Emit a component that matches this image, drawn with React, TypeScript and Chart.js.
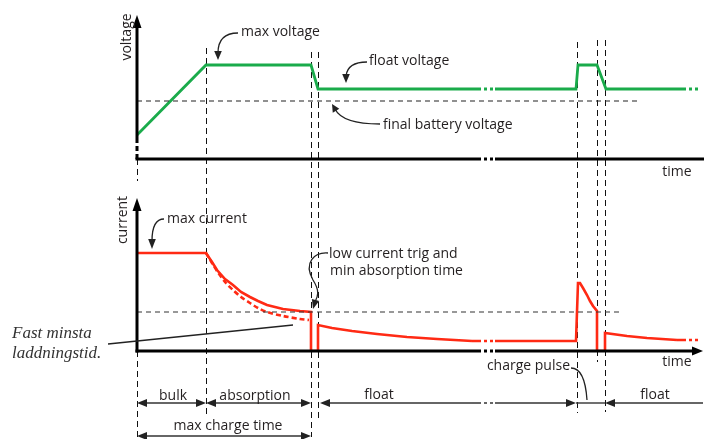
import React, { useEffect, useRef } from "react";
import { Chart, registerables } from "chart.js";

Chart.register(...registerables);

// ---------------- data (schematic units) ----------------
// time axis: 0 = start of charge
const voltageTime = [0, 69, 174, 181, 335, 358, 439, 441, 460, 469, 540, 563];
const voltageLevel = [24, 94, 94, 70, 70, 70, 70, 94, 94, 70, 70, 70];

const currentTime = [0, 69, 75, 80, 88, 96, 104, 113, 121, 130, 146, 163, 174, 174, 181, 181, 195, 215, 240, 270, 300, 335, 358, 439, 441, 443, 446, 450, 453, 456, 460, 460, 468, 468, 490, 510, 540, 563];
const currentLevel = [98, 98, 89, 81, 72, 66, 59, 54, 50, 46, 42, 40, 39, 0, 0, 26, 23, 20, 17, 14, 12, 10, 10, 10, 68, 68, 63, 56, 50, 45, 40, 0, 0, 18, 15, 13, 11, 11];

// alternative (fixed minimum charge time) absorption curve, dashed
const altAbsorptionTime = [69, 75, 80, 88, 96, 104, 113, 121, 130, 146, 163, 172];
const altAbsorptionLevel = [98, 88, 80, 69, 61, 54, 48, 43, 39, 35, 32, 31];

const finalBatteryVoltage = 58;
const finalBatteryLineEnd = 503;
const lowCurrentTrig = 39;
const lowCurrentLineEnd = 485;

// broken ("...") stretches of the time axis: [start, end]
const timeBreaks = [[335, 358], [540, 563]];
const breakStarts = timeBreaks.map((b) => b[0]);

// phase boundaries: start, end bulk, end absorption (max charge time), start float, pulse start, pulse end, float again
const phaseTimes = [0, 69, 174, 181, 440, 460, 468];

const T_MAX = 563;
const V_MAX = 144;
const I_MAX = 192;
const A_MAX = 88;

const pts = (xs: number[], ys: number[]) => xs.map((x, i) => ({ x, y: ys[i] }));

// ---------------- styling / annotation layout ----------------
const DASH_BREAK = [9, 3, 3, 3, 3, 2];
const TEXT_COLOR = "#231f20";
const FONT = '14px "Open Sans", sans-serif';
const FONT_IT = 'italic 17px "Liberation Serif", serif';

type Ax = "yV" | "yI" | "yA";

const vLines: { t: number; from: [Ax, number]; to: [Ax, number] }[] = [
  { t: phaseTimes[0], from: ["yV", 0], to: ["yV", -22] },
  { t: phaseTimes[0], from: ["yI", 0], to: ["yA", 2] },
  { t: phaseTimes[1], from: ["yV", 111], to: ["yA", 21] },
  { t: phaseTimes[2], from: ["yV", 107], to: ["yA", 2] },
  { t: phaseTimes[3], from: ["yV", 107], to: ["yA", 19] },
  { t: phaseTimes[4], from: ["yV", 117], to: ["yA", 26] },
  { t: phaseTimes[5], from: ["yV", 119], to: ["yA", 77] },
  { t: phaseTimes[6], from: ["yV", 119], to: ["yA", 27] },
];

const callouts: { axis: Ax; path: number[][]; tip?: number[] }[] = [
  { axis: "yV", path: [[101, 126], [89, 126], [81, 120], [81, 106]], tip: [81, 99] },
  { axis: "yV", path: [[230, 97], [217, 97], [210, 92], [209, 83]], tip: [209, 76] },
  { axis: "yV", path: [[243, 35], [218, 35], [203, 40], [198, 50]], tip: [195, 55] },
  { axis: "yI", path: [[27, 132], [20, 132], [15, 127], [15, 110]], tip: [15, 102] },
  { axis: "yI", path: [[191, 98], [178, 99], [166, 89], [176, 71], [183, 60], [181, 55], [178, 49]], tip: [176, 42] },
  { axis: "yA", path: [[434, 71], [446, 71], [449, 54], [450, 39]] },
];

const texts: { s: string; axis: Ax; t: number; v: number; align: CanvasTextAlign; rot?: boolean; it?: boolean }[] = [
  { s: "voltage", axis: "yV", t: -10, v: 122, align: "center", rot: true },
  { s: "current", axis: "yI", t: -14, v: 131, align: "center", rot: true },
  { s: "time", axis: "yV", t: 540, v: -13, align: "center" },
  { s: "time", axis: "yI", t: 540, v: -11, align: "center" },
  { s: "max voltage", axis: "yV", t: 104, v: 127, align: "left" },
  { s: "float voltage", axis: "yV", t: 232, v: 98, align: "left" },
  { s: "final battery voltage", axis: "yV", t: 246, v: 34, align: "left" },
  { s: "max current", axis: "yI", t: 30, v: 132, align: "left" },
  { s: "low current trig and", axis: "yI", t: 192, v: 97, align: "left" },
  { s: "min absorption time", axis: "yI", t: 193, v: 80, align: "left" },
  { s: "charge pulse", axis: "yA", t: 433, v: 73, align: "right" },
  { s: "bulk", axis: "yA", t: 36, v: 43, align: "center" },
  { s: "absorption", axis: "yA", t: 118, v: 43, align: "center" },
  { s: "float", axis: "yA", t: 242, v: 44, align: "center" },
  { s: "float", axis: "yA", t: 518, v: 44, align: "center" },
  { s: "max charge time", axis: "yA", t: 91, v: 13, align: "center" },
  { s: "Fast minsta", axis: "yI", t: -125, v: 17, align: "left", it: true },
  { s: "laddningstid.", axis: "yI", t: -125, v: -3, align: "left", it: true },
];

function head(ctx: CanvasRenderingContext2D, tx: number, ty: number, ang: number, len: number, half: number) {
  const c = Math.cos(ang), s = Math.sin(ang);
  ctx.beginPath();
  ctx.moveTo(tx, ty);
  ctx.lineTo(tx - len * c + half * s, ty - len * s - half * c);
  ctx.lineTo(tx - len * c - half * s, ty - len * s + half * c);
  ctx.closePath();
  ctx.fill();
}

function seg(ctx: CanvasRenderingContext2D, x1: number, y1: number, x2: number, y2: number, dash: number[] = []) {
  ctx.setLineDash(dash);
  ctx.beginPath();
  ctx.moveTo(x1, y1);
  ctx.lineTo(x2, y2);
  ctx.stroke();
  ctx.setLineDash([]);
}

const diagramPlugin = {
  id: "diagram",
  beforeDatasetsDraw(chart: any) {
    const ctx: CanvasRenderingContext2D = chart.ctx;
    const sx = chart.scales.x;
    ctx.save();
    ctx.strokeStyle = "#111";
    ctx.lineWidth = 1;
    for (const l of vLines) {
      const X = Math.round(sx.getPixelForValue(l.t)) + 0.5;
      seg(ctx, X, chart.scales[l.from[0]].getPixelForValue(l.from[1]), X, chart.scales[l.to[0]].getPixelForValue(l.to[1]), [6, 4]);
    }
    ctx.restore();
  },
  afterDatasetsDraw(chart: any) {
    const ctx: CanvasRenderingContext2D = chart.ctx;
    const { x: sx, yV, yI, yA } = chart.scales;
    const X = (t: number) => sx.getPixelForValue(t);
    const S: any = { yV, yI, yA };
    ctx.save();

    // ---- axes ----
    ctx.strokeStyle = "#000";
    ctx.fillStyle = "#000";
    ctx.lineWidth = 3;
    const x0 = X(0);
    // voltage axis
    seg(ctx, x0, yV.getPixelForValue(21), x0, yV.getPixelForValue(V_MAX) + 8);
    seg(ctx, x0, yV.getPixelForValue(21), x0, yV.getPixelForValue(0), [5, 3]);
    head(ctx, x0, yV.getPixelForValue(V_MAX), -Math.PI / 2, 13, 4.5);
    // current axis
    seg(ctx, x0, yI.getPixelForValue(0) + 1.5, x0, yI.getPixelForValue(153) + 8);
    head(ctx, x0, yI.getPixelForValue(153), -Math.PI / 2, 13, 4.5);
    // time axes with a break
    const brokenH = (y: number, end: number) => {
      const b0 = X(timeBreaks[0][0]), b1 = X(timeBreaks[0][1]);
      seg(ctx, x0 - 1.5, y, b0, y);
      seg(ctx, b0, y, b1, y, DASH_BREAK);
      seg(ctx, b1, y, end, y);
    };
    brokenH(yV.getPixelForValue(0), X(T_MAX) + 4);
    brokenH(yI.getPixelForValue(0), X(T_MAX) - 5);
    head(ctx, X(T_MAX) + 3, yI.getPixelForValue(0), 0, 11, 4.5);

    // ---- dimension arrows ----
    ctx.strokeStyle = "#333";
    ctx.fillStyle = "#222";
    ctx.lineWidth = 1.4;
    const r1 = yA.getPixelForValue(36);
    const r2 = yA.getPixelForValue(3);
    const dbl = (a: number, b: number, y: number) => {
      seg(ctx, X(a) + 4, y, X(b) - 4, y);
      head(ctx, X(a), y, Math.PI, 10, 4);
      head(ctx, X(b), y, 0, 10, 4);
    };
    dbl(phaseTimes[0], phaseTimes[1], r1);
    dbl(phaseTimes[1], phaseTimes[2], r1);
    dbl(phaseTimes[0], phaseTimes[2], r2);
    // float row
    const fb0 = X(timeBreaks[0][0]), fb1 = X(timeBreaks[0][1]);
    seg(ctx, X(183) + 4, r1, fb0, r1);
    seg(ctx, fb0, r1, fb1, r1, DASH_BREAK);
    seg(ctx, fb1, r1, X(439) - 4, r1);
    head(ctx, X(183), r1, Math.PI, 10, 4);
    head(ctx, X(439), r1, 0, 10, 4);
    seg(ctx, X(439), r1, X(468), r1);
    seg(ctx, X(468) + 4, r1, X(T_MAX) + 3, r1);
    head(ctx, X(468), r1, Math.PI, 10, 4);

    // ---- callouts ----
    ctx.strokeStyle = "#222";
    ctx.fillStyle = "#222";
    ctx.lineWidth = 1.3;
    for (const c of callouts) {
      const sc = S[c.axis];
      const P = c.path.map((p) => [X(p[0]), sc.getPixelForValue(p[1])]);
      ctx.beginPath();
      ctx.moveTo(P[0][0], P[0][1]);
      for (let i = 1; i + 2 < P.length; i += 3) {
        ctx.bezierCurveTo(P[i][0], P[i][1], P[i + 1][0], P[i + 1][1], P[i + 2][0], P[i + 2][1]);
      }
      ctx.stroke();
      if (c.tip) {
        const last = P[P.length - 1];
        const tx = X(c.tip[0]), ty = sc.getPixelForValue(c.tip[1]);
        const ang = Math.atan2(ty - last[1], tx - last[0]);
        const len = Math.hypot(ty - last[1], tx - last[0]) + 2;
        head(ctx, tx, ty, ang, len, 3.8);
      }
    }
    // "Fast minsta laddningstid." pointer
    ctx.lineWidth = 1.4;
    seg(ctx, X(-29), yI.getPixelForValue(7), X(156), yI.getPixelForValue(26));

    // ---- texts ----
    ctx.textBaseline = "middle";
    for (const t of texts) {
      const px = X(t.t), py = S[t.axis].getPixelForValue(t.v);
      ctx.font = t.it ? FONT_IT : FONT;
      ctx.fillStyle = t.it ? "#333" : TEXT_COLOR;
      ctx.textAlign = t.align;
      if (t.rot) {
        ctx.save();
        ctx.translate(px, py);
        ctx.rotate(-Math.PI / 2);
        ctx.fillText(t.s, 0, 0);
        ctx.restore();
      } else {
        ctx.fillText(t.s, px, py);
      }
    }
    ctx.restore();
  },
};

export default function App() {
  const ref = useRef<HTMLCanvasElement>(null);
  useEffect(() => {
    const canvas = ref.current!;
    const breakSegment = {
      borderDash: (c: any) => (breakStarts.includes(c.p0.parsed.x) && c.p1.parsed.x > c.p0.parsed.x ? DASH_BREAK : undefined),
    };
    const chart = new Chart(canvas, {
      type: "line",
      data: {
        datasets: [
          {
            data: [{ x: 0, y: finalBatteryVoltage }, { x: finalBatteryLineEnd, y: finalBatteryVoltage }],
            yAxisID: "yV", borderColor: "#222", borderWidth: 1.2, borderDash: [5, 4], pointRadius: 0,
          },
          {
            data: [{ x: 0, y: lowCurrentTrig }, { x: lowCurrentLineEnd, y: lowCurrentTrig }],
            yAxisID: "yI", borderColor: "#333", borderWidth: 1.2, borderDash: [5, 4], pointRadius: 0,
          },
          {
            data: pts(voltageTime, voltageLevel),
            yAxisID: "yV", borderColor: "#1aab4b", borderWidth: 2.8, pointRadius: 0, tension: 0,
            segment: breakSegment,
          },
          {
            data: pts(altAbsorptionTime, altAbsorptionLevel),
            yAxisID: "yI", borderColor: "#ff2a14", borderWidth: 2.6, borderDash: [5, 3], pointRadius: 0, tension: 0.3,
          },
          {
            data: pts(currentTime, currentLevel),
            yAxisID: "yI", borderColor: "#ff2a14", borderWidth: 2.6, pointRadius: 0, tension: 0,
            segment: breakSegment,
          },
        ],
      },
      options: {
        responsive: false,
        animation: false,
        devicePixelRatio: 1,
        events: [],
        layout: { padding: { left: 137, right: 4, top: 15, bottom: 0 } },
        plugins: { legend: { display: false }, tooltip: { enabled: false } },
        scales: {
          x: { type: "linear", min: 0, max: T_MAX, display: false },
          yV: { type: "linear", position: "left", stack: "panels", stackWeight: V_MAX, weight: 3, min: 0, max: V_MAX, display: false },
          yI: { type: "linear", position: "left", stack: "panels", stackWeight: I_MAX, weight: 2, min: 0, max: I_MAX, display: false },
          yA: { type: "linear", position: "left", stack: "panels", stackWeight: A_MAX, weight: 1, min: 0, max: A_MAX, display: false },
        },
      } as any,
      plugins: [diagramPlugin as any],
    });
    return () => chart.destroy();
  }, []);
  return (
    <div style={{ position: "absolute", left: 0, top: 0, width: 704, height: 439, background: "#fff" }}>
      <canvas ref={ref} width={704} height={439} style={{ display: "block" }} />
    </div>
  );
}
